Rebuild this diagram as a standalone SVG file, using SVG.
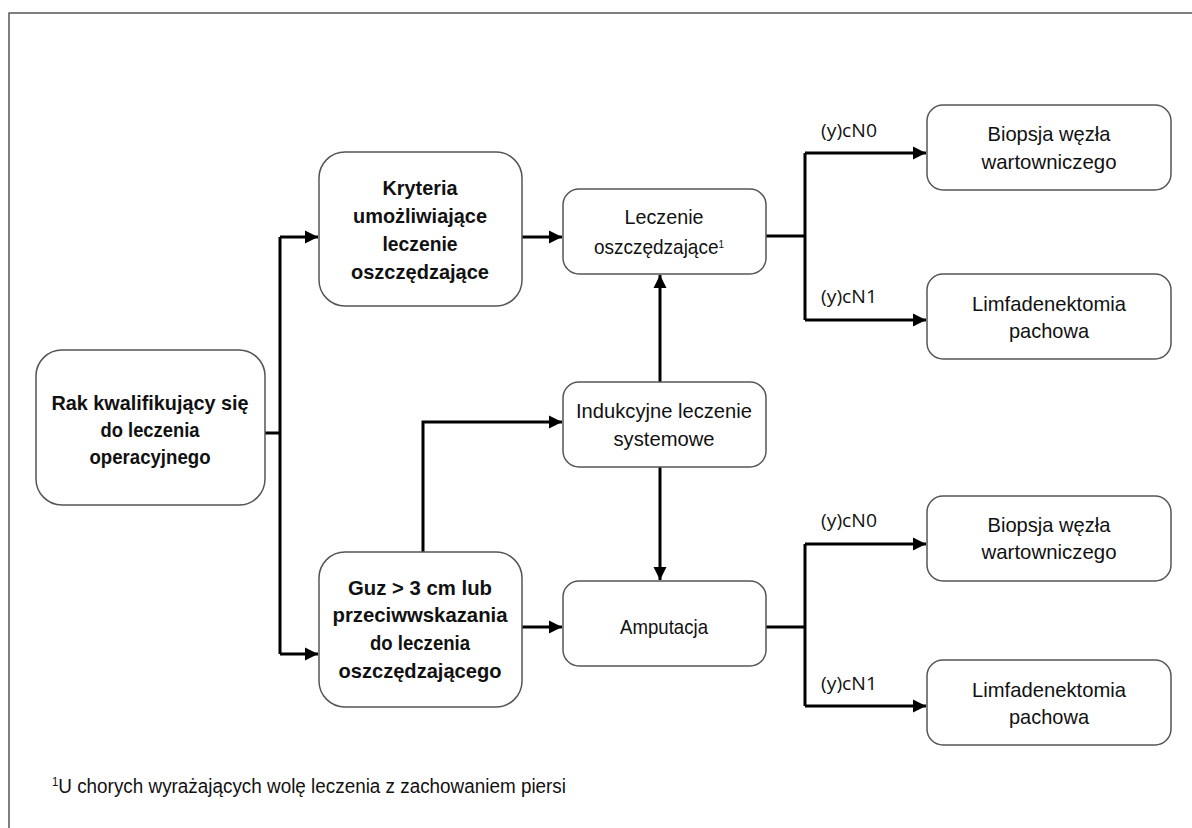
<svg xmlns="http://www.w3.org/2000/svg" width="1192" height="828" viewBox="0 0 1192 828">
<defs>
<style>
.box{fill:#fff;stroke:#555;stroke-width:1.5}
.t{font-family:"Liberation Sans",Arial,sans-serif;font-size:21px;fill:#111;text-anchor:middle}
.b{font-weight:bold;font-size:20.5px}
.lbl{font-family:"Open Sans","Liberation Sans",sans-serif;font-size:18px;fill:#111}
.c{fill:none;stroke:#000;stroke-width:3}
</style>
<marker id="ah" viewBox="0 0 10 10" refX="10" refY="5" markerWidth="4.4" markerHeight="4.4" orient="auto" markerUnits="strokeWidth">
<path d="M0,0 L10,5 L0,10 z" fill="#000"/>
</marker>
</defs>
<rect width="1192" height="828" fill="#fff"/>
<path d="M9,828 V13 H1192" fill="none" stroke="#555" stroke-width="1.5"/>

<g id="connectors">
<path class="c" d="M265,433 H280"/>
<path class="c" d="M280,237 V654"/>
<path class="c" d="M280,237 H318" marker-end="url(#ah)"/>
<path class="c" d="M280,654 H318" marker-end="url(#ah)"/>
<path class="c" d="M522,237 H562" marker-end="url(#ah)"/>
<path class="c" d="M522,627 H562" marker-end="url(#ah)"/>
<path class="c" d="M423,552 V422 H562" marker-end="url(#ah)"/>
<path class="c" d="M660,382 V275" marker-end="url(#ah)"/>
<path class="c" d="M660,467 V580" marker-end="url(#ah)"/>
<path class="c" d="M766,236 H805"/>
<path class="c" d="M805,153 V320"/>
<path class="c" d="M805,153 H926" marker-end="url(#ah)"/>
<path class="c" d="M805,320 H926" marker-end="url(#ah)"/>
<path class="c" d="M766,627 H805"/>
<path class="c" d="M805,544 V706"/>
<path class="c" d="M805,544 H926" marker-end="url(#ah)"/>
<path class="c" d="M805,706 H926" marker-end="url(#ah)"/>
<text class="lbl" x="821" y="137" textLength="56" lengthAdjust="spacingAndGlyphs">(y)cN0</text>
<text class="lbl" x="821" y="303" textLength="56" lengthAdjust="spacingAndGlyphs">(y)cN1</text>
<text class="lbl" x="821" y="527" textLength="56" lengthAdjust="spacingAndGlyphs">(y)cN0</text>
<text class="lbl" x="821" y="690" textLength="56" lengthAdjust="spacingAndGlyphs">(y)cN1</text>
</g>

<g id="rak">
<rect class="box" x="36" y="350" width="229" height="155" rx="26"/>
<text class="t b" x="150" y="410" textLength="197" lengthAdjust="spacingAndGlyphs">Rak kwalifikujący się</text>
<text class="t b" x="150" y="437" textLength="99" lengthAdjust="spacingAndGlyphs">do leczenia</text>
<text class="t b" x="150" y="464" textLength="121" lengthAdjust="spacingAndGlyphs">operacyjnego</text>
</g>

<g id="kryteria">
<rect class="box" x="319" y="152" width="203" height="154" rx="26"/>
<text class="t b" x="420" y="195" textLength="75" lengthAdjust="spacingAndGlyphs">Kryteria</text>
<text class="t b" x="420" y="223" textLength="134" lengthAdjust="spacingAndGlyphs">umożliwiające</text>
<text class="t b" x="420" y="251" textLength="75" lengthAdjust="spacingAndGlyphs">leczenie</text>
<text class="t b" x="420" y="279" textLength="138" lengthAdjust="spacingAndGlyphs">oszczędzające</text>
</g>

<g id="guz">
<rect class="box" x="319" y="552" width="203" height="155" rx="26"/>
<text class="t b" x="420" y="595" textLength="144" lengthAdjust="spacingAndGlyphs">Guz &gt; 3 cm lub</text>
<text class="t b" x="420" y="622" textLength="175" lengthAdjust="spacingAndGlyphs">przeciwwskazania</text>
<text class="t b" x="420" y="650" textLength="100" lengthAdjust="spacingAndGlyphs">do leczenia</text>
<text class="t b" x="420" y="678" textLength="163" lengthAdjust="spacingAndGlyphs">oszczędzającego</text>
</g>

<g id="leczenie">
<rect class="box" x="563" y="189" width="203" height="85" rx="16"/>
<text class="t" x="664" y="224" textLength="79" lengthAdjust="spacingAndGlyphs">Leczenie</text>
<text class="t" x="659" y="254" textLength="130" lengthAdjust="spacingAndGlyphs">oszczędzające<tspan dy="-6" style="font-size:11px">1</tspan></text>
</g>

<g id="indukcyjne">
<rect class="box" x="563" y="382" width="203" height="85" rx="16"/>
<text class="t" x="664" y="418" textLength="176" lengthAdjust="spacingAndGlyphs">Indukcyjne leczenie</text>
<text class="t" x="664" y="446" textLength="101" lengthAdjust="spacingAndGlyphs">systemowe</text>
</g>

<g id="amputacja">
<rect class="box" x="563" y="581" width="203" height="85" rx="16"/>
<text class="t" x="664" y="634" textLength="88" lengthAdjust="spacingAndGlyphs">Amputacja</text>
</g>

<g id="biopsja1">
<rect class="box" x="927" y="105" width="244" height="85" rx="16"/>
<text class="t" x="1049" y="141" textLength="123" lengthAdjust="spacingAndGlyphs">Biopsja węzła</text>
<text class="t" x="1049" y="169" textLength="135" lengthAdjust="spacingAndGlyphs">wartowniczego</text>
</g>

<g id="limfa1">
<rect class="box" x="927" y="274" width="244" height="85" rx="16"/>
<text class="t" x="1049" y="311" textLength="154" lengthAdjust="spacingAndGlyphs">Limfadenektomia</text>
<text class="t" x="1049" y="338" textLength="80" lengthAdjust="spacingAndGlyphs">pachowa</text>
</g>

<g id="biopsja2">
<rect class="box" x="927" y="496" width="244" height="85" rx="16"/>
<text class="t" x="1049" y="532" textLength="123" lengthAdjust="spacingAndGlyphs">Biopsja węzła</text>
<text class="t" x="1049" y="559" textLength="135" lengthAdjust="spacingAndGlyphs">wartowniczego</text>
</g>

<g id="limfa2">
<rect class="box" x="927" y="660" width="244" height="85" rx="16"/>
<text class="t" x="1049" y="697" textLength="154" lengthAdjust="spacingAndGlyphs">Limfadenektomia</text>
<text class="t" x="1049" y="724" textLength="80" lengthAdjust="spacingAndGlyphs">pachowa</text>
</g>

<g id="footnote">
<text class="t" style="text-anchor:start;font-size:20px" x="52" y="793" textLength="514" lengthAdjust="spacingAndGlyphs"><tspan dy="-7" style="font-size:12px">1</tspan><tspan dy="7">U chorych wyrażających wolę leczenia z zachowaniem piersi</tspan></text>
</g>
</svg>
